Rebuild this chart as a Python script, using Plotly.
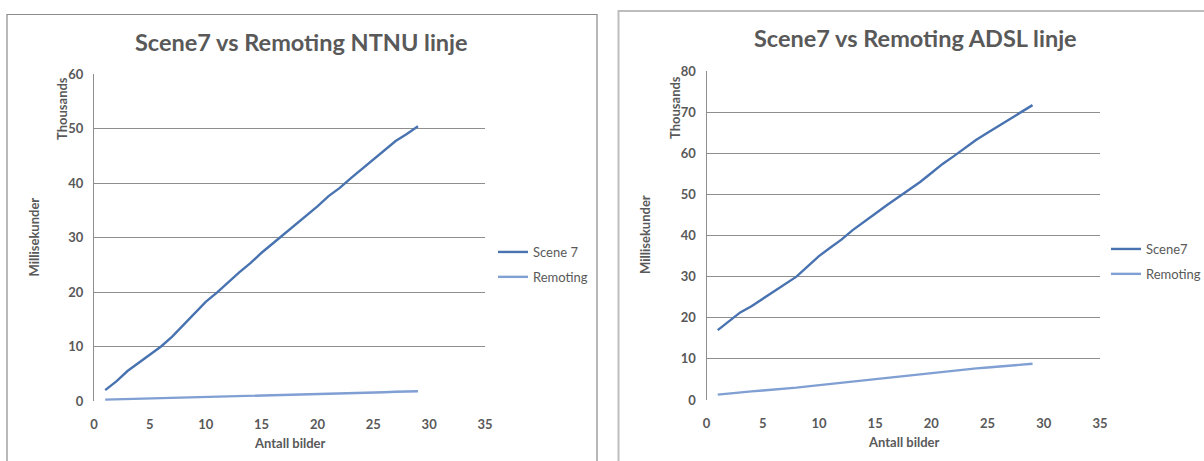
import plotly.graph_objects as go

W, H = 1204, 461

antall = list(range(1, 30))

ntnu_scene7 = [2.0, 3.6, 5.5, 7.0, 8.4, 10.0, 11.8, 13.9, 16.0, 18.2, 19.9, 21.8, 23.6, 25.3, 27.2,
               28.9, 30.6, 32.2, 33.9, 35.7, 37.6, 39.1, 40.9, 42.6, 44.2, 46.0, 47.7, 49.0, 50.4]
ntnu_remoting = [0.25, 0.3, 0.35, 0.4, 0.45, 0.5, 0.55, 0.6, 0.65, 0.7, 0.75, 0.8, 0.85, 0.9, 0.95,
                 1.0, 1.05, 1.1, 1.15, 1.2, 1.3, 1.35, 1.4, 1.5, 1.55, 1.6, 1.7, 1.75, 1.8]

adsl_scene7 = [17.0, 19.2, 21.3, 22.8, 24.6, 26.3, 28.0, 30.0, 32.5, 35.0, 37.0, 39.0, 41.3, 43.2, 45.3,
               47.3, 49.2, 51.1, 53.0, 55.2, 57.4, 59.3, 61.3, 63.3, 65.0, 66.7, 68.2, 70.0, 71.7]
adsl_remoting = [1.3, 1.6, 1.9, 2.1, 2.3, 2.5, 2.7, 3.0, 3.3, 3.6, 3.9, 4.2, 4.5, 4.8, 5.1,
                 5.4, 5.7, 6.0, 6.2, 6.5, 6.8, 7.1, 7.4, 7.7, 7.9, 8.1, 8.3, 8.6, 8.8]

titles = ["Scene7 vs Remoting NTNU linje", "Scene7 vs Remoting ADSL linje"]
legend_names = [["Scene 7", "Remoting"], ["Scene7", "Remoting"]]
x_title = "Antall bilder"
y_title = "Millisekunder"
unit_label = "Thousands"
x_ticks = [0, 5, 10, 15, 20, 25, 30, 35]
y_ticks_left = [0, 10, 20, 30, 40, 50, 60]
y_ticks_right = [0, 10, 20, 30, 40, 50, 60, 70, 80]

C_SCENE = "#4873b0"
C_REMOT = "#809fd3"
TXT = "#595959"
GRID = "#8e8e8e"
FONT = "Lato"

def px(x):
    return x / W

def py(y):
    return 1 - y / H

fig = go.Figure()

fig.add_trace(go.Scatter(x=antall, y=ntnu_scene7, name=legend_names[0][0], mode="lines",
                         line=dict(color=C_SCENE, width=2.4), xaxis="x", yaxis="y",
                         legend="legend", legendgroup="a"))
fig.add_trace(go.Scatter(x=antall, y=ntnu_remoting, name=legend_names[0][1], mode="lines",
                         line=dict(color=C_REMOT, width=2.4), xaxis="x", yaxis="y",
                         legend="legend", legendgroup="b"))
fig.add_trace(go.Scatter(x=antall, y=adsl_scene7, name=legend_names[1][0], mode="lines",
                         line=dict(color=C_SCENE, width=2.4), xaxis="x2", yaxis="y2",
                         legend="legend2", legendgroup="c"))
fig.add_trace(go.Scatter(x=antall, y=adsl_remoting, name=legend_names[1][1], mode="lines",
                         line=dict(color=C_REMOT, width=2.4), xaxis="x2", yaxis="y2",
                         legend="legend2", legendgroup="d"))

tickfont = dict(family=FONT, size=13, color=TXT, weight="bold")

def xaxis(domain, anchor):
    return dict(domain=domain, anchor=anchor, range=[0, 35], tickvals=x_ticks, showgrid=False,
                zeroline=False, showline=False, ticks="", tickfont=tickfont, fixedrange=True,
                automargin=False, ticklabelstandoff=14)

def yaxis(domain, anchor, rng, vals):
    return dict(domain=domain, anchor=anchor, range=rng, tickvals=vals, showgrid=True,
                gridcolor=GRID, gridwidth=1, zeroline=False, showline=True, linecolor=GRID,
                linewidth=1, ticks="", tickfont=tickfont, fixedrange=True, ticklabelstandoff=7,
                automargin=False)

legend_style = dict(font=dict(family=FONT, size=13, color=TXT), bgcolor="rgba(0,0,0,0)",
                    xanchor="left", yanchor="middle", itemwidth=30, tracegroupgap=5,
                    groupclick="toggleitem")

fig.update_layout(
    width=W, height=H, margin=dict(l=0, r=0, t=0, b=0, autoexpand=False),
    paper_bgcolor="white", plot_bgcolor="white", showlegend=True,
    xaxis=xaxis([px(94), px(485)], "y"),
    yaxis=yaxis([py(401), py(74)], "x", [0, 60], y_ticks_left),
    xaxis2=xaxis([px(706.5), px(1100)], "y2"),
    yaxis2=yaxis([py(400), py(71)], "x2", [0, 80], y_ticks_right),
    legend=dict(x=px(493), y=py(264.5), **legend_style),
    legend2=dict(x=px(1106), y=py(261.5), **legend_style),
)

# chart borders
fig.add_shape(type="rect", xref="paper", yref="paper", x0=px(7), x1=px(597), y0=py(470), y1=py(14.5),
              line=dict(color="#8a8a8a", width=1.2), fillcolor="rgba(0,0,0,0)", layer="below")
fig.add_shape(type="rect", xref="paper", yref="paper", x0=px(618.5), x1=px(1215), y0=py(470), y1=py(11),
              line=dict(color="#bdbdbd", width=2), fillcolor="rgba(0,0,0,0)", layer="below")

def ann(text, x, y, size, bold=True, angle=0):
    fig.add_annotation(text=text, xref="paper", yref="paper", x=px(x), y=py(y), showarrow=False,
                       xanchor="center", yanchor="middle", textangle=angle,
                       font=dict(family=FONT, size=size, color=TXT, weight="bold" if bold else "normal"))

ann(titles[0], 301, 42, 23.5)
ann(titles[1], 915.5, 38, 23.5)
ann(y_title, 33.5, 237, 13, angle=-90)
ann(y_title, 645, 235, 13, angle=-90)
ann(unit_label, 62, 109, 13, angle=-90)
ann(unit_label, 675, 108, 13, angle=-90)
ann(x_title, 290, 443, 13)
ann(x_title, 903.5, 442, 13)

fig.write_html("out.html",
               config={"displayModeBar": False},
               post_script="document.body.style.margin='0';document.body.style.padding='0';"
                           "document.documentElement.style.overflow='hidden';")
